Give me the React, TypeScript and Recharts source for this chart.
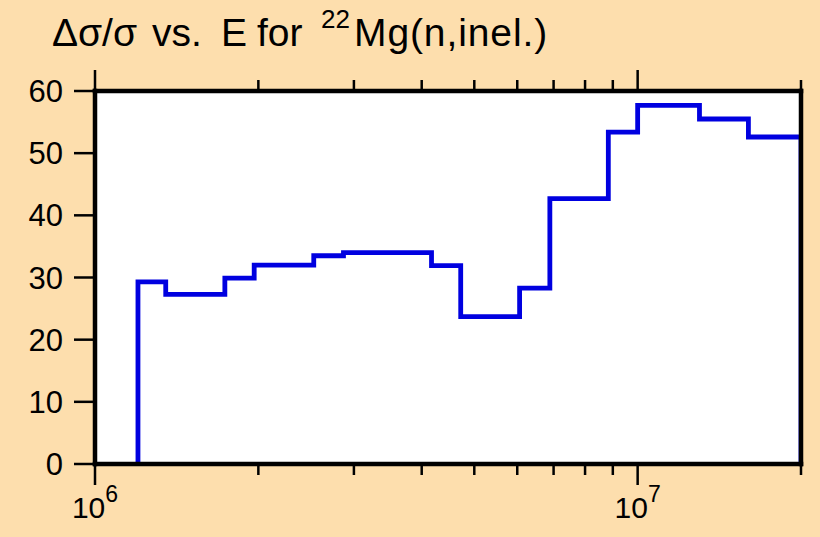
import React from "react";
import { LineChart, Line, XAxis, YAxis, CartesianGrid } from "recharts";

// bin edges in eV and relative uncertainty (%) per bin
const binEdges = [1.2e6, 1.35e6, 1.735e6, 1.965e6, 2.53e6, 2.87e6, 4.17e6, 4.72e6, 6.06e6, 6.89e6, 8.83e6, 1.0e7, 1.3e7, 1.6e7, 2.0e7];
const relErr = [29.3, 27.3, 29.9, 32.0, 33.5, 34.0, 31.9, 23.7, 28.3, 42.7, 53.4, 57.7, 55.5, 52.6];

const xTicks = [1e6, 2e6, 3e6, 4e6, 5e6, 6e6, 7e6, 8e6, 9e6, 1e7, 2e7];
const majorX = [1e6, 1e7];
const yTicks = [0, 10, 20, 30, 40, 50, 60];

const BG = "#fddead";
const BLUE = "#0000e0";
const FONT = "'Liberation Sans', Arial, sans-serif";

const last = relErr[relErr.length - 1];
const stepData = [
  { E: binEdges[0], v: 0 },
  ...relErr.map((v, i) => ({ E: binEdges[i], v })),
  { E: binEdges[binEdges.length - 1], v: last },
  { E: binEdges[binEdges.length - 1], v: 0 },
];

function BottomTick(props: any) {
  const { x, y, payload } = props;
  const major = majorX.includes(payload.value);
  return (
    <g>
      <line x1={x} x2={x} y1={y} y2={y + (major ? 21 : 11)} stroke="#000" strokeWidth={2.5} />
      {major && (
        <text x={x} y={y + 54} textAnchor="middle" fontSize={30} fontFamily={FONT} fill="#000">
          10
          <tspan dy={-16} fontSize={23}>
            {Math.round(Math.log10(payload.value))}
          </tspan>
        </text>
      )}
    </g>
  );
}

function TopTick(props: any) {
  const { x, y, payload } = props;
  const major = majorX.includes(payload.value);
  return <line x1={x} x2={x} y1={y} y2={y - (major ? 21 : 11)} stroke="#000" strokeWidth={2.5} />;
}

function LeftTick(props: any) {
  const { x, y, payload } = props;
  return (
    <g>
      <line x1={x - 21} x2={x} y1={y} y2={y} stroke="#000" strokeWidth={2.5} />
      <text x={x - 32} y={y} dy="0.36em" textAnchor="end" fontSize={31} fontFamily={FONT} fill="#000">
        {payload.value}
      </text>
    </g>
  );
}

function RightTick(props: any) {
  const { x, y, payload } = props;
  if (payload.value === 0) return <g />;
  return <line x1={x} x2={x + 21} y1={y} y2={y} stroke="#000" strokeWidth={2.5} />;
}

const frame = { stroke: "#000", strokeWidth: 4.5, strokeLinecap: "square" as const };

export default function App() {
  return (
    <div style={{ position: "absolute", left: 0, top: 0, width: 820, height: 537, background: BG, fontFamily: FONT }}>
      <LineChart width={820} height={537} data={stepData} margin={{ top: 0, right: 0, bottom: 0, left: 0 }}>
        <CartesianGrid xAxisId="bottom" yAxisId="left" fill="#fff" horizontal={false} vertical={false} />
        <XAxis
          xAxisId="bottom"
          dataKey="E"
          type="number"
          scale="log"
          domain={[1e6, 2e7]}
          allowDataOverflow
          ticks={xTicks}
          interval={0}
          height={73}
          tickSize={0}
          tickMargin={0}
          tickLine={false}
          axisLine={frame}
          tick={<BottomTick />}
        />
        <XAxis
          xAxisId="top"
          orientation="top"
          dataKey="E"
          type="number"
          scale="log"
          domain={[1e6, 2e7]}
          allowDataOverflow
          ticks={xTicks}
          interval={0}
          height={91}
          tickSize={0}
          tickMargin={0}
          tickLine={false}
          axisLine={frame}
          tick={<TopTick />}
        />
        <YAxis
          yAxisId="left"
          type="number"
          domain={[0, 60]}
          ticks={yTicks}
          interval={0}
          width={95}
          tickSize={0}
          tickMargin={0}
          tickLine={false}
          axisLine={frame}
          tick={<LeftTick />}
        />
        <YAxis
          yAxisId="right"
          orientation="right"
          type="number"
          domain={[0, 60]}
          ticks={yTicks}
          interval={0}
          width={19}
          tickSize={0}
          tickMargin={0}
          tickLine={false}
          axisLine={frame}
          tick={<RightTick />}
        />
        <Line
          xAxisId="bottom"
          yAxisId="left"
          type="stepAfter"
          dataKey="v"
          stroke={BLUE}
          strokeWidth={4.8}
          strokeLinejoin="miter"
          dot={false}
          isAnimationActive={false}
        />
      </LineChart>
      <svg width={820} height={80} style={{ position: "absolute", left: 0, top: 0, pointerEvents: "none" }}>
        <text y={46} fontSize={39} fontFamily={FONT} fill="#000">
          <tspan x={52}>Δσ/σ</tspan>
          <tspan x={152}>vs.</tspan>
          <tspan x={221}>E</tspan>
          <tspan x={257}>for</tspan>
          <tspan x={321} y={28} fontSize={26}>22</tspan>
          <tspan x={354} y={46} letterSpacing={0.9}>Mg(n,inel.)</tspan>
        </text>
      </svg>
    </div>
  );
}
